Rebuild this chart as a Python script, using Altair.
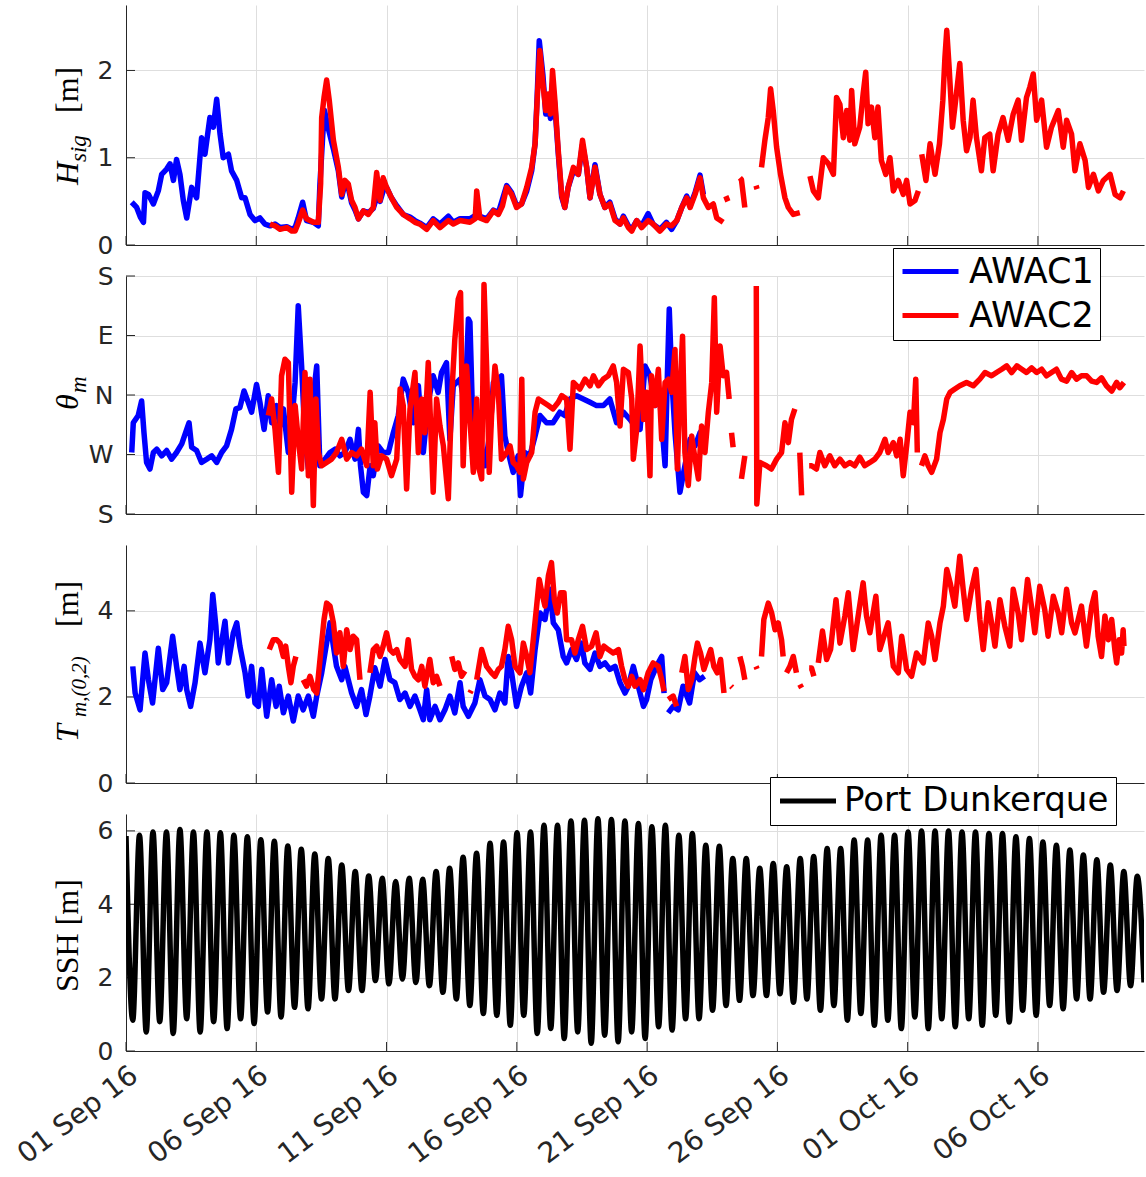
import json
import altair as alt
import pandas as pd

# ---------------- data (days since 01 Sep 2016 00:00) ----------------
X_MAX = 39.07
TICK_DAYS = [0, 5, 10, 15, 20, 25, 30, 35]
TICK_LABELS = ["01 Sep 16", "06 Sep 16", "11 Sep 16", "16 Sep 16",
               "21 Sep 16", "26 Sep 16", "01 Oct 16", "06 Oct 16"]

HSIG_AWAC1 = [
    (0.22, 0.49), (0.41, 0.43), (0.55, 0.32), (0.67, 0.26), (0.73, 0.60), (0.86, 0.58), (1.05, 0.47),
    (1.24, 0.62), (1.37, 0.81), (1.56, 0.87), (1.69, 0.93), (1.82, 0.74), (1.94, 0.98), (2.07, 0.81),
    (2.2, 0.51), (2.33, 0.31), (2.52, 0.66), (2.71, 0.54), (2.9, 1.23), (3.03, 1.04), (3.22, 1.46),
    (3.35, 1.35), (3.48, 1.67), (3.61, 1.27), (3.73, 1.00), (3.93, 1.04), (4.05, 0.85), (4.25, 0.74),
    (4.44, 0.54), (4.57, 0.54), (4.76, 0.35), (4.95, 0.28), (5.14, 0.31), (5.33, 0.24), (5.53, 0.22),
    (5.72, 0.24), (5.91, 0.20), (6.17, 0.21), (6.36, 0.18), (6.49, 0.20), (6.61, 0.31), (6.78, 0.49),
    (6.93, 0.28), (7.19, 0.26), (7.38, 0.22), (7.44, 0.68), (7.55, 1.25), (7.62, 1.54), (7.75, 1.35),
    (7.96, 1.10), (8.15, 0.85), (8.28, 0.55), (8.4, 0.70), (8.53, 0.66), (8.66, 0.48), (8.79, 0.40),
    (8.92, 0.30), (9.11, 0.39), (9.3, 0.37), (9.49, 0.42), (9.62, 0.55), (9.75, 0.50), (9.87, 0.62),
    (10.0, 0.66), (10.19, 0.54), (10.39, 0.45), (10.64, 0.35), (10.9, 0.32), (11.09, 0.28), (11.28, 0.25),
    (11.54, 0.20), (11.79, 0.30), (12.05, 0.24), (12.37, 0.33), (12.56, 0.26), (12.82, 0.30), (13.2, 0.30),
    (13.46, 0.35), (13.58, 0.33), (13.84, 0.30), (14.1, 0.40), (14.29, 0.37), (14.61, 0.68), (14.8, 0.60),
    (14.99, 0.45), (15.18, 0.47), (15.38, 0.62), (15.57, 0.85), (15.7, 1.16), (15.78, 1.70), (15.86, 2.34),
    (16.0, 1.95), (16.11, 1.50), (16.2, 1.70), (16.29, 1.45), (16.37, 1.85), (16.46, 1.60), (16.59, 1.05),
    (16.72, 0.55), (16.84, 0.43), (16.97, 0.66), (17.17, 0.85), (17.36, 0.81), (17.52, 1.15), (17.68, 0.89),
    (17.81, 0.54), (18.0, 0.92), (18.19, 0.58), (18.38, 0.43), (18.57, 0.49), (18.77, 0.30), (18.96, 0.24),
    (19.09, 0.33), (19.28, 0.22), (19.41, 0.18), (19.6, 0.28), (19.79, 0.22), (20.04, 0.36), (20.23, 0.24),
    (20.49, 0.18), (20.74, 0.26), (20.94, 0.18), (21.14, 0.28), (21.33, 0.43), (21.52, 0.56), (21.65, 0.45),
    (21.84, 0.60), (22.03, 0.80), (22.16, 0.58),
]

HSIG_AWAC2 = [
    (5.53, 0.24), (5.72, 0.22), (5.91, 0.18), (6.17, 0.20), (6.36, 0.16), (6.49, 0.16), (6.61, 0.25),
    (6.78, 0.40), (6.93, 0.30), (7.19, 0.26), (7.38, 0.26), (7.47, 0.70), (7.51, 1.46), (7.6, 1.69),
    (7.7, 1.89), (7.8, 1.66), (7.96, 1.20), (8.15, 0.89), (8.28, 0.58), (8.4, 0.74), (8.53, 0.70),
    (8.66, 0.51), (8.79, 0.43), (8.92, 0.30), (9.11, 0.39), (9.3, 0.35), (9.49, 0.43), (9.62, 0.83),
    (9.75, 0.51), (9.87, 0.77), (10.0, 0.66), (10.19, 0.54), (10.39, 0.43), (10.64, 0.35), (10.9, 0.30),
    (11.09, 0.26), (11.28, 0.24), (11.54, 0.18), (11.79, 0.28), (12.05, 0.20), (12.37, 0.28), (12.56, 0.24),
    (12.82, 0.28), (13.2, 0.26), (13.4, 0.30), (13.46, 0.62), (13.58, 0.31), (13.84, 0.28), (14.1, 0.39),
    (14.29, 0.35), (14.45, 0.45), (14.61, 0.66), (14.8, 0.58), (14.99, 0.43), (15.18, 0.47), (15.38, 0.66),
    (15.57, 0.89), (15.7, 1.16), (15.78, 1.66), (15.88, 2.23), (16.0, 1.85), (16.11, 1.54), (16.2, 1.73),
    (16.29, 1.50), (16.37, 2.00), (16.46, 1.66), (16.59, 1.08), (16.72, 0.58), (16.84, 0.43), (16.97, 0.66),
    (17.17, 0.89), (17.36, 0.81), (17.52, 1.20), (17.68, 0.89), (17.81, 0.54), (18.0, 0.89), (18.19, 0.58),
    (18.38, 0.43), (18.57, 0.47), (18.77, 0.28), (18.96, 0.24), (19.09, 0.31), (19.28, 0.20), (19.41, 0.16),
    (19.6, 0.28), (19.79, 0.20), (20.04, 0.28), (20.23, 0.24), (20.49, 0.16), (20.74, 0.24), (20.94, 0.22),
    (21.14, 0.28), (21.33, 0.43), (21.52, 0.54), (21.65, 0.43), (21.84, 0.58), (22.03, 0.77), (22.16, 0.54),
    (22.35, 0.43), (22.54, 0.47), (22.67, 0.31), (22.92, 0.26), None,
    (23.02, 0.56), (23.1, 0.50), None,
    (23.56, 0.77), (23.62, 0.75), (23.75, 0.43), None,
    (24.18, 0.68), (24.22, 0.64), None,
    (24.39, 0.89), (24.52, 1.20), (24.65, 1.46), (24.74, 1.79), (24.84, 1.54), (24.97, 1.12), (25.12, 0.81),
    (25.29, 0.54), (25.42, 0.43), (25.61, 0.35), (25.86, 0.37), None,
    (26.25, 0.79), (26.38, 0.62), (26.57, 0.54), (26.76, 1.00), (26.96, 0.93), (27.15, 0.81), (27.27, 1.69),
    (27.4, 1.61), (27.53, 1.23), (27.66, 1.54), (27.78, 1.20), (27.85, 1.77), (27.97, 1.16), (28.16, 1.35),
    (28.29, 1.73), (28.39, 1.98), (28.48, 1.39), (28.61, 1.58), (28.74, 1.23), (28.86, 1.58), (28.99, 0.97),
    (29.16, 0.81), (29.32, 1.00), (29.45, 0.62), (29.64, 0.74), (29.83, 0.58), (29.96, 0.74), (30.09, 0.47),
    (30.28, 0.51), (30.41, 0.62), None,
    (30.54, 1.04), (30.7, 0.74), (30.86, 1.16), (31.05, 0.81), (31.22, 1.16), (31.35, 1.66), (31.43, 2.15),
    (31.5, 2.46), (31.59, 2.04), (31.72, 1.35), (31.87, 1.73), (32.0, 2.08), (32.13, 1.43), (32.26, 1.08),
    (32.39, 1.23), (32.51, 1.66), (32.64, 1.23), (32.83, 0.85), (32.96, 1.23), (33.15, 1.27), (33.28, 0.85),
    (33.47, 1.27), (33.66, 1.46), (33.86, 1.20), (34.05, 1.50), (34.24, 1.66), (34.37, 1.20), (34.56, 1.69),
    (34.69, 1.81), (34.82, 1.96), (34.95, 1.43), (35.14, 1.66), (35.33, 1.12), (35.52, 1.35), (35.78, 1.54),
    (35.97, 1.12), (36.1, 1.43), (36.29, 1.27), (36.42, 0.85), (36.61, 1.16), (36.81, 0.97), (36.94, 0.66),
    (37.13, 0.81), (37.32, 0.62), (37.51, 0.74), (37.77, 0.81), (37.96, 0.58), (38.15, 0.54), (38.28, 0.62),
]

# mean direction in degrees: 180 = S (bottom), 270 = W, 360 = N, 450 = E, 540 = S (top)
THETA_AWAC1 = [
    (0.22, 273), (0.28, 318), (0.47, 329), (0.6, 351), (0.69, 303), (0.79, 258), (0.92, 248), (1.05, 273),
    (1.18, 278), (1.37, 268), (1.56, 276), (1.75, 263), (1.94, 273), (2.14, 286), (2.33, 308), (2.42, 318),
    (2.52, 281), (2.71, 276), (2.9, 258), (3.1, 263), (3.29, 268), (3.48, 258), (3.67, 273), (3.86, 283),
    (4.05, 308), (4.22, 339), (4.37, 341), (4.53, 366), (4.69, 349), (4.82, 334), (5.01, 376), (5.14, 349),
    (5.3, 308), (5.46, 359), (5.59, 318), (5.78, 344), (5.91, 313), (6.04, 339), (6.23, 273), (6.36, 318),
    (6.49, 379), (6.61, 495), (6.74, 404), (6.87, 293), (7.0, 248), (7.13, 339), (7.32, 404), (7.44, 253),
    (7.64, 263), (7.83, 273), (8.02, 278), (8.21, 268), (8.4, 273), (8.6, 293), (8.79, 263), (8.92, 308),
    (9.0, 253), (9.11, 213), (9.24, 208), (9.37, 253), (9.49, 238), (9.68, 283), (9.87, 273), (10.07, 273),
    (10.26, 303), (10.45, 329), (10.64, 384), (10.83, 364), (11.03, 318), (11.22, 374), (11.41, 273),
    (11.6, 349), (11.79, 389), (11.98, 364), (12.11, 394), (12.3, 409), (12.43, 293), (12.56, 374),
    (12.82, 384), (13.01, 344), (13.14, 475), (13.2, 470), (13.33, 288), (13.46, 278), (13.58, 293),
    (13.78, 253), (13.97, 303), (14.1, 379), (14.29, 384), (14.41, 389), (14.54, 298), (14.67, 273),
    (14.86, 243), (15.05, 268), (15.14, 208), (15.31, 273), (15.5, 268), (15.7, 298), (15.89, 329),
    (16.14, 318), (16.39, 318), (16.65, 334), (16.84, 329), (17.04, 354), (17.29, 359), (17.55, 354),
    (17.81, 349), (18.06, 344), (18.32, 344), (18.57, 354), (18.83, 318), (19.09, 334), (19.34, 323),
    (19.53, 313), (19.73, 308), (19.92, 404), (20.11, 389), (20.3, 344), (20.49, 354), (20.69, 253),
    (20.78, 394), (20.85, 490), (20.94, 389), (21.07, 303), (21.26, 213), (21.45, 253), (21.65, 293),
    (21.84, 283), (22.03, 303), (22.22, 313),
]

THETA_AWAC2 = [
    (5.46, 329), (5.59, 354), (5.72, 308), (5.85, 243), (5.97, 389), (6.1, 414), (6.23, 409), (6.36, 213),
    (6.49, 344), (6.61, 293), (6.74, 248), (6.87, 394), (7.0, 238), (7.06, 384), (7.19, 193), (7.29, 354),
    (7.38, 273), (7.51, 253), (7.7, 258), (7.89, 263), (8.08, 273), (8.28, 293), (8.47, 263), (8.66, 273),
    (8.85, 268), (9.04, 278), (9.24, 253), (9.37, 364), (9.49, 253), (9.55, 318), (9.65, 248), (9.81, 268),
    (10.0, 263), (10.19, 238), (10.39, 263), (10.52, 369), (10.64, 344), (10.77, 218), (10.9, 339),
    (11.09, 394), (11.22, 273), (11.35, 354), (11.47, 303), (11.6, 409), (11.79, 213), (11.92, 354),
    (12.05, 313), (12.18, 283), (12.37, 203), (12.5, 359), (12.62, 444), (12.75, 505), (12.84, 515),
    (12.94, 253), (13.07, 404), (13.2, 323), (13.33, 243), (13.46, 354), (13.52, 253), (13.65, 233),
    (13.74, 527), (13.84, 404), (13.94, 243), (14.03, 329), (14.16, 404), (14.29, 364), (14.41, 263),
    (14.61, 273), (14.74, 283), (14.86, 258), (14.99, 253), (15.12, 243), (15.19, 384), (15.25, 233),
    (15.38, 258), (15.57, 273), (15.7, 334), (15.83, 354), (16.02, 349), (16.21, 344), (16.39, 339),
    (16.59, 349), (16.72, 359), (16.91, 354), (17.04, 278), (17.17, 379), (17.42, 369), (17.62, 384),
    (17.81, 374), (17.94, 389), (18.13, 374), (18.32, 384), (18.51, 389), (18.7, 404), (18.83, 379),
    (18.96, 313), (19.09, 399), (19.28, 394), (19.41, 354), (19.47, 263), (19.6, 308), (19.73, 434),
    (19.86, 323), (19.98, 364), (20.11, 238), (20.17, 389), (20.3, 344), (20.43, 399), (20.56, 293),
    (20.69, 379), (20.82, 384), (20.94, 364), (21.07, 429), (21.16, 248), (21.26, 364), (21.36, 449),
    (21.45, 273), (21.58, 223), (21.71, 298), (21.84, 263), (21.97, 233), (22.09, 313), (22.22, 273),
    (22.35, 334), (22.48, 379), (22.58, 507), (22.67, 334), (22.8, 434), (22.92, 389), (23.05, 394),
    (23.15, 354), None,
    (23.24, 303), (23.3, 281), None,
    (23.62, 233), (23.75, 268), None,
    (24.19, 525), (24.21, 195), (24.33, 258), (24.58, 253), (24.77, 248), (24.97, 263), (25.16, 273),
    (25.29, 318), (25.42, 288), (25.54, 323), (25.67, 339), None,
    (25.86, 273), (25.93, 208), None,
    (26.22, 253), (26.31, 253), (26.5, 248), (26.63, 273), (26.82, 253), (27.01, 268), (27.2, 253),
    (27.4, 263), (27.59, 253), (27.78, 258), (27.97, 253), (28.16, 266), (28.35, 253), (28.55, 258),
    (28.74, 263), (28.93, 273), (29.13, 293), (29.25, 273), (29.45, 288), (29.58, 268), (29.71, 293),
    (29.83, 238), (29.96, 283), (30.09, 334), (30.22, 318), (30.31, 384), (30.37, 273), None,
    (30.53, 253), (30.66, 268), (30.79, 253), (30.92, 243), (31.11, 263), (31.24, 303), (31.37, 323),
    (31.5, 354), (31.63, 364), (31.81, 369), (32.0, 374), (32.26, 379), (32.52, 374), (32.77, 384),
    (32.97, 394), (33.22, 389), (33.41, 394), (33.61, 399), (33.8, 404), (33.99, 394), (34.19, 404),
    (34.38, 399), (34.56, 394), (34.76, 401), (34.95, 394), (35.14, 399), (35.33, 389), (35.52, 394),
    (35.71, 399), (35.9, 384), (36.1, 381), (36.29, 394), (36.48, 384), (36.67, 389), (36.87, 389),
    (37.06, 381), (37.25, 379), (37.44, 386), (37.63, 374), (37.83, 366), (38.02, 379), (38.14, 371),
    (38.3, 379),
]

TM_AWAC1 = [
    (0.26, 2.71), (0.35, 2.09), (0.54, 1.70), (0.73, 3.02), (0.86, 2.40), (1.02, 1.86), (1.24, 3.13),
    (1.41, 2.17), (1.56, 2.33), (1.79, 3.41), (1.94, 2.71), (2.07, 2.17), (2.23, 2.71), (2.33, 2.17),
    (2.48, 1.78), (2.65, 2.33), (2.84, 3.25), (3.03, 2.56), (3.22, 3.33), (3.33, 4.38), (3.45, 3.64),
    (3.54, 2.79), (3.8, 3.76), (3.93, 2.79), (4.12, 3.49), (4.25, 3.72), (4.37, 3.18), (4.57, 2.56),
    (4.69, 2.02), (4.82, 2.71), (4.95, 1.86), (5.08, 1.78), (5.21, 2.64), (5.4, 1.55), (5.59, 2.40),
    (5.76, 1.78), (5.88, 2.25), (6.04, 1.63), (6.23, 2.02), (6.42, 1.44), (6.61, 2.02), (6.8, 1.70),
    (7.0, 2.02), (7.19, 1.55), (7.32, 2.02), (7.51, 2.56), (7.7, 3.25), (7.83, 3.72), (7.96, 3.18),
    (8.08, 2.71), (8.28, 2.40), (8.4, 2.71), (8.53, 2.40), (8.66, 2.09), (8.85, 1.78), (9.04, 2.17),
    (9.21, 1.59), (9.36, 2.02), (9.55, 2.68), (9.75, 2.25), (9.94, 2.87), (10.13, 2.40), (10.32, 2.33),
    (10.51, 1.94), (10.71, 2.09), (10.9, 1.78), (11.09, 2.02), (11.28, 1.70), (11.41, 1.47), (11.54, 2.17),
    (11.66, 1.47), (11.86, 1.78), (12.05, 1.47), (12.24, 1.70), (12.43, 2.02), (12.62, 1.63), (12.82, 2.33),
    (12.94, 1.78), (13.14, 1.55), (13.39, 1.86), (13.58, 2.40), (13.78, 2.02), (13.97, 1.94), (14.16, 1.70),
    (14.35, 2.09), (14.54, 1.86), (14.67, 2.94), (14.8, 2.56), (14.99, 1.78), (15.18, 2.25), (15.38, 2.56),
    (15.53, 2.09), (15.7, 3.10), (15.89, 3.95), (16.08, 3.80), (16.27, 4.50), (16.4, 3.72), (16.59, 3.56),
    (16.78, 2.94), (16.91, 2.79), (17.1, 3.10), (17.29, 2.87), (17.48, 3.25), (17.61, 2.79), (17.81, 2.64),
    (18.0, 3.02), (18.19, 2.71), (18.38, 2.79), (18.57, 2.64), (18.77, 2.71), (18.96, 2.33), (19.15, 2.09),
    (19.28, 2.25), (19.47, 2.71), (19.66, 2.25), (19.86, 1.78), (19.98, 1.94), (20.14, 2.40), (20.36, 2.71),
    (20.56, 2.94), (20.65, 2.09), None,
    (20.81, 1.63), (21.0, 1.78), (21.19, 1.70), (21.38, 2.25), (21.63, 1.86), (21.82, 2.56), (22.01, 2.40),
    (22.2, 2.48),
]

TM_AWAC2 = [
    (5.5, 3.10), (5.65, 3.33), (5.78, 3.33), (5.91, 3.25), (6.04, 2.94), (6.13, 3.18), (6.23, 2.71),
    (6.33, 2.33), (6.42, 2.71), (6.52, 2.94), None,
    (6.8, 2.40), (6.93, 2.25), (7.06, 2.48), (7.21, 2.17), (7.32, 2.09), (7.47, 3.02), (7.6, 3.80),
    (7.7, 4.18), (7.83, 4.11), (7.96, 3.72), (8.08, 3.02), (8.21, 3.49), (8.34, 2.71), (8.47, 3.56),
    (8.6, 3.10), (8.72, 3.41), (8.85, 3.33), (8.98, 2.40), None,
    (9.36, 2.56), (9.49, 3.10), (9.62, 3.18), (9.75, 2.94), (9.87, 3.18), (10.0, 3.49), (10.13, 3.10),
    (10.26, 3.02), (10.39, 3.10), (10.51, 2.87), (10.71, 2.71), (10.83, 3.33), (10.96, 2.64), (11.09, 2.48),
    (11.22, 2.40), (11.35, 2.71), (11.47, 2.25), (11.66, 2.87), (11.79, 2.33), (11.92, 2.48), (12.05, 2.25),
    None,
    (12.5, 2.94), (12.62, 2.64), (12.75, 2.79), (12.88, 2.48), (13.01, 2.60), None,
    (13.2, 2.09), (13.25, 2.15), None,
    (13.46, 2.40), (13.65, 3.10), (13.84, 2.71), (14.03, 2.56), (14.16, 2.48), (14.29, 2.64), (14.41, 2.71),
    (14.54, 3.10), (14.67, 3.64), (14.8, 3.33), (14.93, 2.71), (15.12, 2.56), (15.25, 3.25), (15.38, 2.94),
    (15.5, 2.56), (15.63, 3.33), (15.76, 4.11), (15.86, 4.73), (15.99, 4.34), (16.08, 4.11), (16.21, 4.81),
    (16.33, 5.12), (16.44, 4.26), (16.55, 3.95), (16.68, 4.42), (16.81, 4.42), (16.91, 3.33), (17.1, 3.33),
    (17.23, 3.02), (17.36, 3.33), (17.52, 3.64), (17.68, 3.10), (17.87, 3.18), (18.04, 3.49), (18.19, 2.94),
    (18.34, 3.18), (18.51, 3.10), (18.7, 3.02), (18.9, 3.10), (19.02, 2.71), (19.15, 2.40), (19.28, 2.25),
    (19.41, 2.48), (19.53, 2.25), (19.73, 2.40), (19.86, 2.17), (20.04, 2.56), (20.23, 2.79), (20.43, 2.71),
    (20.56, 2.40), (20.65, 2.13), None,
    (20.81, 1.94), (21.0, 2.02), (21.13, 1.78), None,
    (21.33, 2.56), (21.45, 2.94), (21.58, 2.17), (21.71, 2.40), (21.84, 2.94), (21.93, 3.25), (22.05, 3.02),
    (22.18, 2.64), (22.31, 2.87), (22.44, 3.10), (22.56, 2.71), (22.69, 2.56), (22.82, 2.87), (22.95, 2.09),
    None,
    (23.22, 2.25), (23.27, 2.22), None,
    (23.56, 2.94), (23.66, 2.70), (23.75, 2.40), None,
    (24.18, 2.71), (24.22, 2.65), None,
    (24.39, 2.94), (24.48, 3.80), (24.65, 4.18), (24.78, 3.95), (24.91, 3.56), (25.03, 3.72), (25.16, 3.33),
    (25.22, 2.94), None,
    (25.35, 2.56), (25.48, 2.71), (25.61, 2.94), (25.73, 2.56), None,
    (25.86, 2.29), (25.93, 2.21), None,
    (26.22, 2.67), (26.31, 2.67), (26.4, 2.48), None,
    (26.57, 2.79), (26.73, 3.53), (26.89, 2.87), (27.04, 3.10), (27.25, 4.26), (27.4, 3.25), (27.59, 3.88),
    (27.72, 4.42), (27.91, 3.10), (28.1, 3.88), (28.29, 4.65), (28.42, 3.88), (28.55, 3.49), (28.78, 4.34),
    (28.93, 3.10), (29.09, 3.41), (29.25, 3.72), (29.45, 2.71), (29.64, 2.56), (29.77, 3.41), (29.96, 2.64),
    (30.15, 2.48), (30.34, 3.02), (30.6, 2.79), (30.79, 3.72), (30.92, 3.41), (31.05, 2.87), (31.24, 3.72),
    (31.37, 4.11), (31.5, 4.96), (31.63, 4.65), (31.81, 4.11), (32.0, 5.27), (32.13, 4.50), (32.26, 3.80),
    (32.45, 4.50), (32.62, 4.96), (32.77, 3.80), (32.9, 3.10), (33.09, 4.19), (33.22, 3.72), (33.35, 3.18),
    (33.54, 4.26), (33.73, 3.64), (33.92, 3.18), (34.05, 4.50), (34.24, 3.95), (34.37, 3.33), (34.6, 4.73),
    (34.75, 4.11), (34.88, 3.49), (35.07, 4.57), (35.26, 4.03), (35.39, 3.41), (35.59, 4.34), (35.78, 3.95),
    (35.91, 3.49), (36.1, 4.50), (36.29, 3.72), (36.42, 3.49), (36.67, 4.11), (36.86, 3.18), (37.06, 4.11),
    (37.19, 4.42), (37.31, 3.41), (37.44, 2.94), (37.57, 3.88), (37.7, 3.33), (37.83, 3.80), (37.95, 3.10),
    (38.02, 2.79), (38.12, 3.33), (38.21, 3.02), (38.27, 3.56), (38.3, 3.18),
]

# Port Dunkerque sea surface height: successive high and low waters (m)
TIDE_PERIOD = 0.5175  # days (M2)
SSH_HIGH = [
    5.86, 5.88, 5.97, 5.97, 6.04, 5.97, 5.97, 5.95, 5.88, 5.84, 5.76, 5.72, 5.59, 5.50, 5.37, 5.25,
    5.07, 4.89, 4.77, 4.71, 4.62, 4.71, 4.68, 4.89, 4.98, 5.28,
    5.39, 5.66, 5.70, 5.95, 5.97, 6.15, 6.15, 6.27, 6.29, 6.33, 6.31, 6.27, 6.20, 6.11, 6.15, 5.88,
    5.93, 5.61, 5.58, 5.25, 5.25, 4.98, 5.11, 5.02, 5.25,
    5.30, 5.52, 5.52, 5.75, 5.75, 5.88, 5.88, 5.97, 6.00, 6.00, 6.00, 5.97, 5.97, 5.93, 5.93, 5.84,
    5.79, 5.70, 5.61, 5.48, 5.34, 5.21, 5.07, 4.89, 4.76,
]
SSH_LOW = [
    0.84, 0.52, 0.80, 0.48, 0.88, 0.52, 0.80, 0.61, 0.88, 0.75, 1.06, 0.93, 1.19, 1.15, 1.42, 1.42,
    1.65, 1.65, 1.92, 1.83, 1.96, 1.87, 1.78, 1.60, 1.42, 1.24,
    1.02, 0.97, 0.70, 0.97, 0.48, 0.61, 0.34, 0.52, 0.21, 0.43, 0.25, 0.52, 0.34, 0.66, 0.57, 0.88,
    0.88, 1.11, 1.24, 1.38, 1.51, 1.51, 1.56, 1.33,
    1.42, 1.11, 1.24, 0.84, 1.02, 0.70, 0.84, 0.61, 0.93, 0.61, 0.88, 0.66, 0.88, 0.70, 0.97, 0.79,
    1.11, 0.97, 1.24, 1.15, 1.42, 1.42, 1.60, 1.65, 1.78, 1.87,
]

# ---------------- helpers ----------------
BLUE, RED, BLACK = "#0000FF", "#FF0000", "#000000"
AXC = "#262626"
SANS = "DejaVu Sans"
SERIF = "Liberation Serif"
W = 1018


def frame(points, series):
    rows, seg = [], 0
    for p in points:
        if p is None:
            seg += 1
            continue
        rows.append({"day": p[0], "value": p[1], "series": series, "seg": seg})
    return pd.DataFrame(rows)


ssh_pts = []
for k in range(len(SSH_HIGH)):
    ssh_pts.append((k * TIDE_PERIOD, SSH_HIGH[k]))
    ssh_pts.append((k * TIDE_PERIOD + TIDE_PERIOD / 2, SSH_LOW[k]))

label_expr = json.dumps(TICK_LABELS) + "[round(datum.value / 5)]"


def x_enc(show_labels):
    return alt.X(
        "day:Q",
        scale=alt.Scale(domain=[0, X_MAX], nice=False, zero=False),
        axis=alt.Axis(values=TICK_DAYS, labels=show_labels, labelExpr=label_expr, ticks=False,
                      grid=True, title=None, labelAngle=323, labelAlign="right",
                      labelBaseline="top", labelPadding=10, labelFontSize=28, labelFont=SANS,
                      labelColor=AXC, domainColor=AXC, gridColor="#dedede", labelOverlap=False),
    )


def y_enc(domain, values, expr=None):
    kw = dict(values=values, ticks=False, grid=True, title=None, labelFontSize=25, labelFont=SANS,
              labelColor=AXC, domainColor=AXC, gridColor="#dedede", labelPadding=13)
    if expr:
        kw["labelExpr"] = expr
    return alt.Y("value:Q", scale=alt.Scale(domain=domain, nice=False, zero=False), axis=alt.Axis(**kw))


def panel(h, domain, yvals, series_frames, color_domain, color_range, legend, titles,
          show_x_labels=False, yexpr=None, interpolate="linear"):
    xe = x_enc(show_x_labels)
    ye = y_enc(domain, yvals, yexpr)
    layers = []
    # inward ticks (MATLAB style)
    layers.append(alt.Chart(pd.DataFrame({"day": TICK_DAYS})).mark_rule(color=AXC, strokeWidth=1)
                  .encode(x=xe, y=alt.value(h - 9), y2=alt.value(h)))
    layers.append(alt.Chart(pd.DataFrame({"value": yvals})).mark_rule(color=AXC, strokeWidth=1)
                  .encode(y=ye, x=alt.value(0), x2=alt.value(9)))
    col = alt.Color("series:N", scale=alt.Scale(domain=color_domain, range=color_range), legend=legend)
    for df in series_frames:
        layers.append(alt.Chart(df).mark_line(strokeWidth=5.5, interpolate=interpolate, clip=True,
                                              strokeJoin="round")
                      .encode(x=xe, y=ye, color=col, detail="seg:N"))
    for (txt, xr, yr, size, italic, font) in titles:
        kw = dict(angle=270, align="left", baseline="alphabetic", font=font, fontSize=size, color=BLACK)
        if italic:
            kw["fontStyle"] = "italic"
        layers.append(alt.Chart(pd.DataFrame({"t": [txt]})).mark_text(**kw)
                      .encode(text="t:N", x=alt.value(xr), y=alt.value(yr)))
    return alt.layer(*layers).properties(width=W, height=h)


LINE_SYMBOL = "M-1,0H3"   # horizontal stroke, 2x the symbol width
awac_legend = alt.Legend(orient="none", legendX=767, legendY=-28, title=None, symbolType=LINE_SYMBOL,
                         symbolSize=784, symbolStrokeWidth=5, labelFontSize=35, labelFont=SANS,
                         labelColor=BLACK, fillColor="white", strokeColor=BLACK, padding=6,
                         rowPadding=8, labelOffset=35, cornerRadius=0, labelLimit=400)
port_legend = alt.Legend(orient="none", legendX=644, legendY=-37, title=None, symbolType=LINE_SYMBOL,
                         symbolSize=784, symbolStrokeWidth=5, labelFontSize=34, labelFont=SANS,
                         labelColor=BLACK, fillColor="white", strokeColor=BLACK, padding=7,
                         labelOffset=33, cornerRadius=0, labelLimit=500)

AW = ["AWAC1", "AWAC2"]
p1 = panel(240, [0, 2.75], [0, 1, 2],
           [frame(HSIG_AWAC1, "AWAC1"), frame(HSIG_AWAC2, "AWAC2")], AW, [BLUE, RED], None,
           [("H", -48, 180, 32, True, SERIF), ("sig", -40, 157, 23, True, SERIF),
            ("[m]", -48, 108, 32, False, SERIF)])
p2 = panel(238, [180, 540], [180, 270, 360, 450, 540],
           [frame(THETA_AWAC1, "AWAC1"), frame(THETA_AWAC2, "AWAC2")], AW, [BLUE, RED], awac_legend,
           [("θ", -48, 134, 32, True, SERIF), ("m", -40, 117, 23, True, SERIF)],
           yexpr="['S','W','N','E','S'][round((datum.value - 180) / 90)]")
p3 = panel(238, [0, 5.53], [0, 2, 4],
           [frame(TM_AWAC1, "AWAC1"), frame(TM_AWAC2, "AWAC2")], AW, [BLUE, RED], None,
           [("T", -48, 197, 32, True, SERIF), ("m,(0,2)", -40, 172, 21, True, SERIF),
            ("[m]", -48, 82, 32, False, SERIF)])
p4 = panel(237, [0, 6.46], [0, 2, 4, 6],
           [frame(ssh_pts, "Port Dunkerque")], ["Port Dunkerque"], [BLACK], port_legend,
           [("SSH [m]", -48, 178, 32, False, SERIF)], show_x_labels=True, interpolate="monotone")

chart = (
    alt.vconcat(p1, p2, p3, p4, spacing=31, bounds="flush")
    .resolve_scale(color="independent", x="independent", y="independent")
    .resolve_legend(color="independent")
    .resolve_axis(x="independent", y="independent")
    .properties(background="white", padding={"left": 12, "top": 5, "right": 2, "bottom": 5})
    .configure_view(stroke=None)
)

chart.save("out.html", embed_options={"renderer": "svg", "actions": False})
